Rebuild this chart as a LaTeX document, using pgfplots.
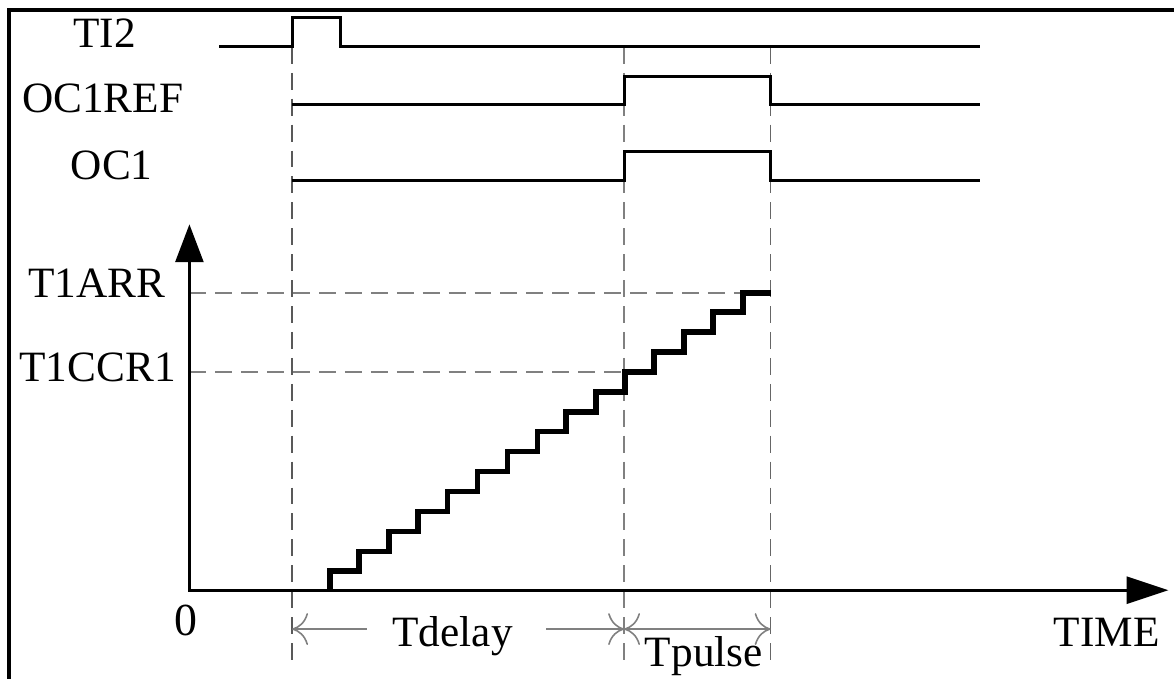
\documentclass[border=0pt]{standalone}
\usepackage{pgfplots}
\pgfplotsset{compat=1.18}
\usetikzlibrary{arrows.meta}
\usepackage{fontspec}
\setmainfont{Liberation Serif}
\begin{document}
\begin{tikzpicture}
\begin{axis}[
  scale only axis, width=588pt, height=339.5pt,
  xmin=0, xmax=1176, ymin=0, ymax=679, y dir=reverse,
  hide axis, clip=false,
]
% bounding box and frame
\path (axis cs:0,0) rectangle (axis cs:1176,679);
\draw[line width=1.6pt] (axis cs:9,681) -- (axis cs:9,10) -- (axis cs:1178,10);
% dashed guides
\draw[gray!70!black, line width=0.7pt, dash pattern=on 8.5pt off 4.5pt] (axis cs:293,47) -- (axis cs:293,668);
\draw[gray, line width=0.7pt, dash pattern=on 8.5pt off 4.5pt] (axis cs:626,47) -- (axis cs:626,668);
\draw[gray!80!black, line width=0.7pt, dash pattern=on 8.5pt off 4.5pt] (axis cs:773,47) -- (axis cs:773,668);
\draw[gray, line width=0.7pt, dash pattern=on 8.5pt off 4.5pt] (axis cs:190,294) -- (axis cs:773,294);
\draw[gray, line width=0.7pt, dash pattern=on 8.5pt off 4.5pt] (axis cs:190,373) -- (axis cs:626,373);
% signals
\addplot[black, line width=1.5pt] coordinates {(220,47) (293,47) (293,18) (342,18) (342,47) (983,47)};
\addplot[black, line width=1.5pt] coordinates {(293,105) (626,105) (626,77) (773,77) (773,105) (983,105)};
\addplot[black, line width=1.5pt] coordinates {(293,181) (626,181) (626,152) (773,152) (773,181) (983,181)};
% axes
\draw[line width=1.5pt, -{Triangle[length=19pt, width=14pt]}] (axis cs:190,592) -- (axis cs:190,225);
\draw[line width=1.5pt, -{Triangle[length=21pt, width=13.5pt]}] (axis cs:189,592) -- (axis cs:1172,592);
% staircase counter
\addplot[black, line width=2.8pt, line join=miter] coordinates {
 (331,592) (331,573) (360,573) (360,553) (390,553) (390,533) (419,533) (419,513)
 (449,513) (449,493) (479,493) (479,473) (509,473) (509,453) (539,453) (539,433)
 (568,433) (568,413) (598,413) (598,393) (627,393) (627,373) (656,373) (656,353)
 (686,353) (686,333) (715,333) (715,313) (745,313) (745,294) (773,294)};
% dimension arrows
\draw[gray, line width=0.8pt, -{To[length=8pt, width=16pt]}] (axis cs:368,631) -- (axis cs:293,631);
\draw[gray, line width=0.8pt, -{To[length=8pt, width=16pt]}] (axis cs:548,631) -- (axis cs:626,631);
\draw[gray, line width=0.8pt, {To[length=8pt, width=16pt]}-{To[length=8pt, width=16pt]}] (axis cs:626,631) -- (axis cs:773,631);
% labels
\fontsize{21.7}{25}\selectfont
\node[anchor=base] at (axis cs:105,48) {TI2};
\node[anchor=base] at (axis cs:103,113) {OC1REF};
\node[anchor=base] at (axis cs:112,180) {OC1};
\node[anchor=base] at (axis cs:97,298) {T1ARR};
\node[anchor=base] at (axis cs:98,383) {T1CCR1};
\node[anchor=base, font=\fontsize{23}{27}\selectfont] at (axis cs:187,637) {0};
\node[anchor=base] at (axis cs:454,648) {Tdelay};
\node[anchor=base] at (axis cs:706,669) {Tpulse};
\node[anchor=base] at (axis cs:1110,648) {TIME};
\end{axis}
\end{tikzpicture}
\end{document}
